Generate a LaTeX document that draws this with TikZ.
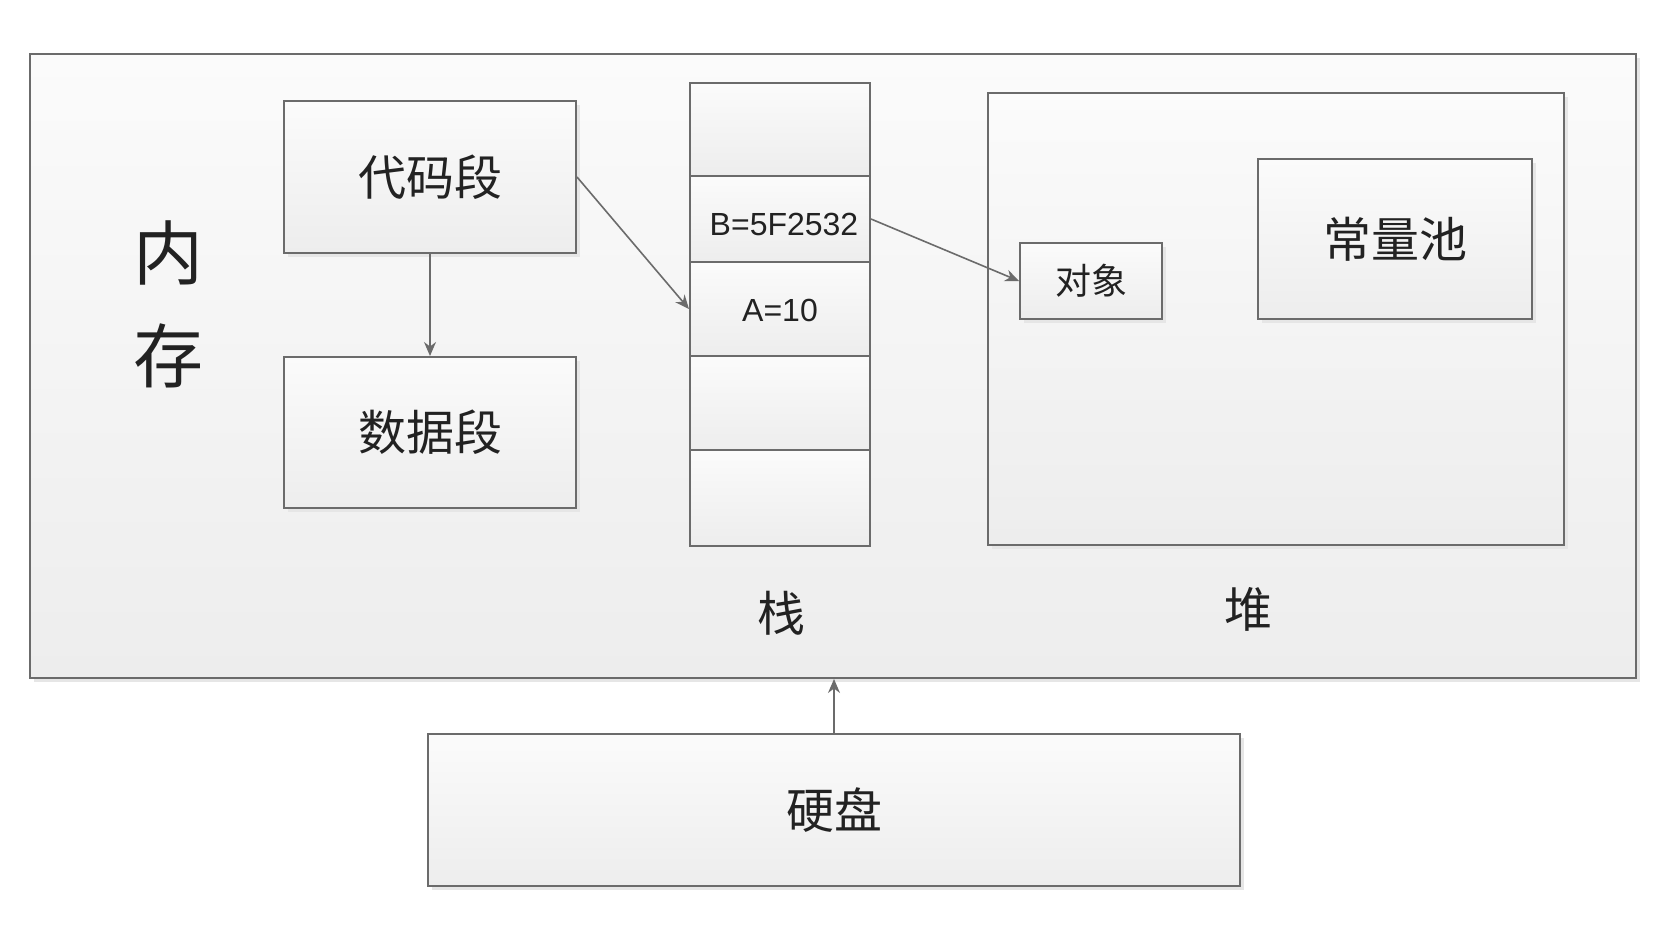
\documentclass[tikz,border=0pt]{standalone}
\usepackage{fontspec}
\setmainfont{Liberation Sans}
\newfontfamily\cjk{Noto Sans CJK SC}
\usetikzlibrary{arrows.meta,shadows}
\definecolor{edge}{HTML}{6B6B6B}
\definecolor{shadetop}{HTML}{FBFBFB}
\definecolor{shadebot}{HTML}{EDEDED}
\definecolor{shadowc}{HTML}{E6E6E6}
\definecolor{ink}{HTML}{222222}
\tikzset{
  box/.style={draw=edge, line width=2pt, top color=shadetop, bottom color=shadebot,
    rectangle, inner sep=0pt, text=ink,
    drop shadow={shadow xshift=4pt, shadow yshift=-4pt, fill=shadowc, opacity=1}},
  cell/.style={draw=edge, line width=2pt, top color=shadetop, bottom color=shadebot,
    rectangle, inner sep=0pt, text=ink, minimum width=180pt},
  link/.style={draw=edge, line width=1.6pt, -{Stealth[length=14pt,width=12pt]}},
  big/.style={font=\cjk\fontsize{48}{56}\selectfont, text=ink},
  latin/.style={font=\fontsize{32}{38}\selectfont},
}
\begin{document}
\begin{tikzpicture}[x=1pt,y=-1pt]
\useasboundingbox (0,0) rectangle (1666,945);
% main memory frame
\node[box, minimum width=1606pt, minimum height=624pt] (mem) at (833,366) {};
\node[big, font=\cjk\fontsize{70}{80}\selectfont] (lbl1) at (168,253) {内};
\node[big, font=\cjk\fontsize{70}{80}\selectfont] (lbl2) at (168,356) {存};
% code and data segments
\node[box, big, minimum width=292pt, minimum height=152pt] (code) at (430,177) {代码段};
\node[box, big, minimum width=292pt, minimum height=151pt] (data) at (430,432.5) {数据段};
% stack cells
\node[cell, minimum height=93pt] (s1) at (780,129.5) {};
\node[cell, minimum height=86pt] (sb) at (780,219) {};
\node[latin, text=ink] (sbt) at (784,224) {B=5F2532};
\node[cell, minimum height=94pt] (sa) at (780,309) {};
\node[latin, text=ink] (sat) at (780,310) {A=10};
\node[cell, minimum height=94pt] (s4) at (780,403) {};
\node[cell, minimum height=96pt] (s5) at (780,498) {};
\node[big] (stk) at (781,613) {栈};
% heap
\node[box, minimum width=576pt, minimum height=452pt] (heap) at (1276,319) {};
\node[box, minimum width=142pt, minimum height=76pt, font=\cjk\fontsize{36}{42}\selectfont] (obj) at (1091,281) {对象};
\node[box, big, minimum width=274pt, minimum height=160pt] (pool) at (1395,239) {常量池};
\node[big] (hp) at (1248,609) {堆};
% disk
\node[box, big, minimum width=812pt, minimum height=152pt] (disk) at (834,810) {硬盘};
% connectors
\draw[link] (code.east) -- (sa.west);
\draw[link] (code.south) -- (data.north);
\draw[link] (sb.east) -- (obj.west);
\draw[link] (disk.north) -- (disk.north |- mem.south);
\end{tikzpicture}
\end{document}
